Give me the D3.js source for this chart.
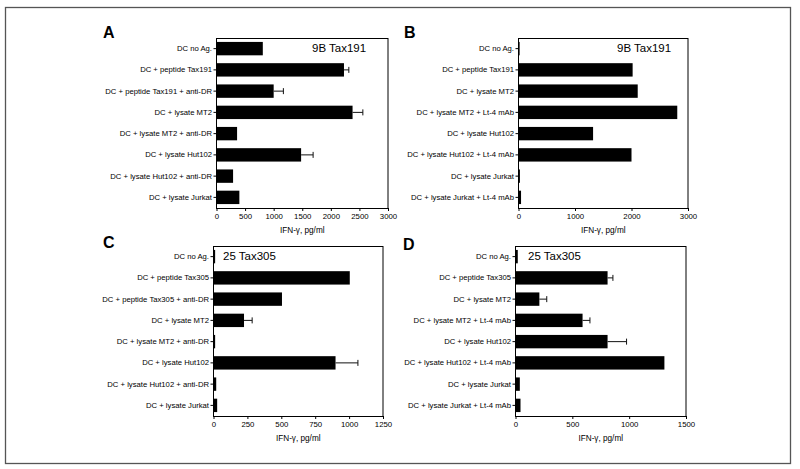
<!DOCTYPE html>
<html><head><meta charset="utf-8">
<script src="https://cdn.jsdelivr.net/npm/d3@7"></script>
<style>body{margin:0;background:#fff}svg{display:block}</style>
</head><body>
<svg id="c" width="800" height="469"></svg>
<script>
const catsA = ["DC no Ag.", "DC + peptide Tax191", "DC + peptide Tax191 + anti-DR", "DC + lysate MT2", "DC + lysate MT2 + anti-DR", "DC + lysate Hut102", "DC + lysate Hut102 + anti-DR", "DC + lysate Jurkat"];
const valsA = [810, 2230, 1000, 2380, 360, 1480, 290, 400];
const errA  = [0, 85, 170, 180, 0, 210, 0, 0];
const ticksA = [0, 500, 1000, 1500, 2000, 2500, 3000];

const catsB = ["DC no Ag.", "DC + peptide Tax191", "DC + lysate MT2", "DC + lysate MT2 + Lt-4 mAb", "DC + lysate Hut102", "DC + lysate Hut102 + Lt-4 mAb", "DC + lysate Jurkat", "DC + lysate Jurkat + Lt-4 mAb"];
const valsB = [20, 2020, 2110, 2810, 1320, 2000, 25, 45];
const errB  = [0, 0, 0, 0, 0, 0, 0, 0];
const ticksB = [0, 1000, 2000, 3000];

const catsC = ["DC no Ag.", "DC + peptide Tax305", "DC + peptide Tax305 + anti-DR", "DC + lysate MT2", "DC + lysate MT2 + anti-DR", "DC + lysate Hut102", "DC + lysate Hut102 + anti-DR", "DC + lysate Jurkat"];
const valsC = [12, 1005, 505, 225, 12, 900, 20, 27];
const errC  = [0, 0, 0, 60, 0, 165, 0, 0];
const ticksC = [0, 250, 500, 750, 1000, 1250];

const catsD = ["DC no Ag.", "DC + peptide Tax305", "DC + lysate MT2", "DC + lysate MT2 + Lt-4 mAb", "DC + lysate Hut102", "DC + lysate Hut102 + Lt-4 mAb", "DC + lysate Jurkat", "DC + lysate Jurkat + Lt-4 mAb"];
const valsD = [20, 810, 210, 590, 810, 1310, 38, 44];
const errD  = [0, 47, 65, 65, 167, 0, 0, 0];
const ticksD = [0, 500, 1000, 1500];

const panelLetters = ["A", "B", "C", "D"];
const panelNotes = ["9B Tax191", "9B Tax191", "25 Tax305", "25 Tax305"];
const xTitle = "IFN-\u03b3, pg/ml";

const FONT = "'Liberation Sans', Arial, Helvetica, sans-serif";
const svg = d3.select("#c");

svg.append("rect").attr("x", 5.5).attr("y", 7.5).attr("width", 785).attr("height", 456)
  .attr("fill", "none").attr("stroke", "#555").attr("stroke-width", 1.3);

const panels = [
  {cats: catsA, vals: valsA, errs: errA, ticks: ticksA, x0: 216.5, x1: 388, y0: 38, y1: 208, lx: 103, ly: 38, nx: 312, ny: 52},
  {cats: catsB, vals: valsB, errs: errB, ticks: ticksB, x0: 518.5, x1: 688, y0: 38, y1: 208, lx: 404, ly: 38, nx: 617, ny: 52},
  {cats: catsC, vals: valsC, errs: errC, ticks: ticksC, x0: 213.5, x1: 383, y0: 246, y1: 416, lx: 103, ly: 248, nx: 223, ny: 260},
  {cats: catsD, vals: valsD, errs: errD, ticks: ticksD, x0: 515.5, x1: 686, y0: 246, y1: 416, lx: 403, ly: 250, nx: 528, ny: 260}
];

panels.forEach((p, i) => {
  const g = svg.append("g");
  const x = d3.scaleLinear().domain([0, d3.max(p.ticks)]).range([p.x0, p.x1]);
  const y = d3.scaleBand().domain(p.cats).range([p.y0, p.y1]).paddingInner(0.37).paddingOuter(0.185);

  g.selectAll("rect.bar").data(p.cats).join("rect")
    .attr("x", x(0)).attr("y", d => y(d))
    .attr("width", (d, k) => x(p.vals[k]) - x(0))
    .attr("height", y.bandwidth()).attr("fill", "#000");

  p.cats.forEach((c, k) => {
    if (!p.errs[k]) return;
    const cy = y(c) + y.bandwidth() / 2;
    g.append("line").attr("x1", x(p.vals[k])).attr("x2", x(p.vals[k] + p.errs[k]))
      .attr("y1", cy).attr("y2", cy).attr("stroke", "#111").attr("stroke-width", 1);
    g.append("line").attr("x1", x(p.vals[k] + p.errs[k])).attr("x2", x(p.vals[k] + p.errs[k]))
      .attr("y1", cy - 3).attr("y2", cy + 3).attr("stroke", "#111").attr("stroke-width", 1);
  });

  g.append("rect").attr("x", p.x0).attr("y", p.y0 + 0.5).attr("width", p.x1 - p.x0).attr("height", p.y1 - p.y0)
    .attr("fill", "none").attr("stroke", "#000").attr("stroke-width", 1);

  const xa = g.append("g").attr("transform", `translate(0,${p.y1})`)
    .call(d3.axisBottom(x).tickValues(p.ticks).tickFormat(d3.format("d")).tickSize(3).tickPadding(2).tickSizeOuter(0));
  xa.select(".domain").attr("stroke", "#000");
  xa.selectAll("text").attr("font-family", FONT).attr("font-size", 7.8).attr("fill", "#000");

  const ya = g.append("g").attr("transform", `translate(${p.x0},0)`)
    .call(d3.axisLeft(y).tickSize(3).tickPadding(1.5).tickSizeOuter(0));
  ya.select(".domain").remove();
  ya.selectAll("text").attr("font-family", FONT).attr("font-size", 7.7).attr("fill", "#000");

  g.append("text").attr("x", (p.x0 + p.x1) / 2).attr("y", p.y1 + 25)
    .attr("text-anchor", "middle").attr("font-family", FONT).attr("font-size", 8.2).text(xTitle);

  g.append("text").attr("x", p.lx).attr("y", p.ly).attr("font-family", FONT)
    .attr("font-weight", "bold").attr("font-size", 16).text(panelLetters[i]);

  g.append("text").attr("x", p.nx).attr("y", p.ny).attr("font-family", FONT)
    .attr("font-size", 11.5).text(panelNotes[i]);
});
</script>
</body></html>
